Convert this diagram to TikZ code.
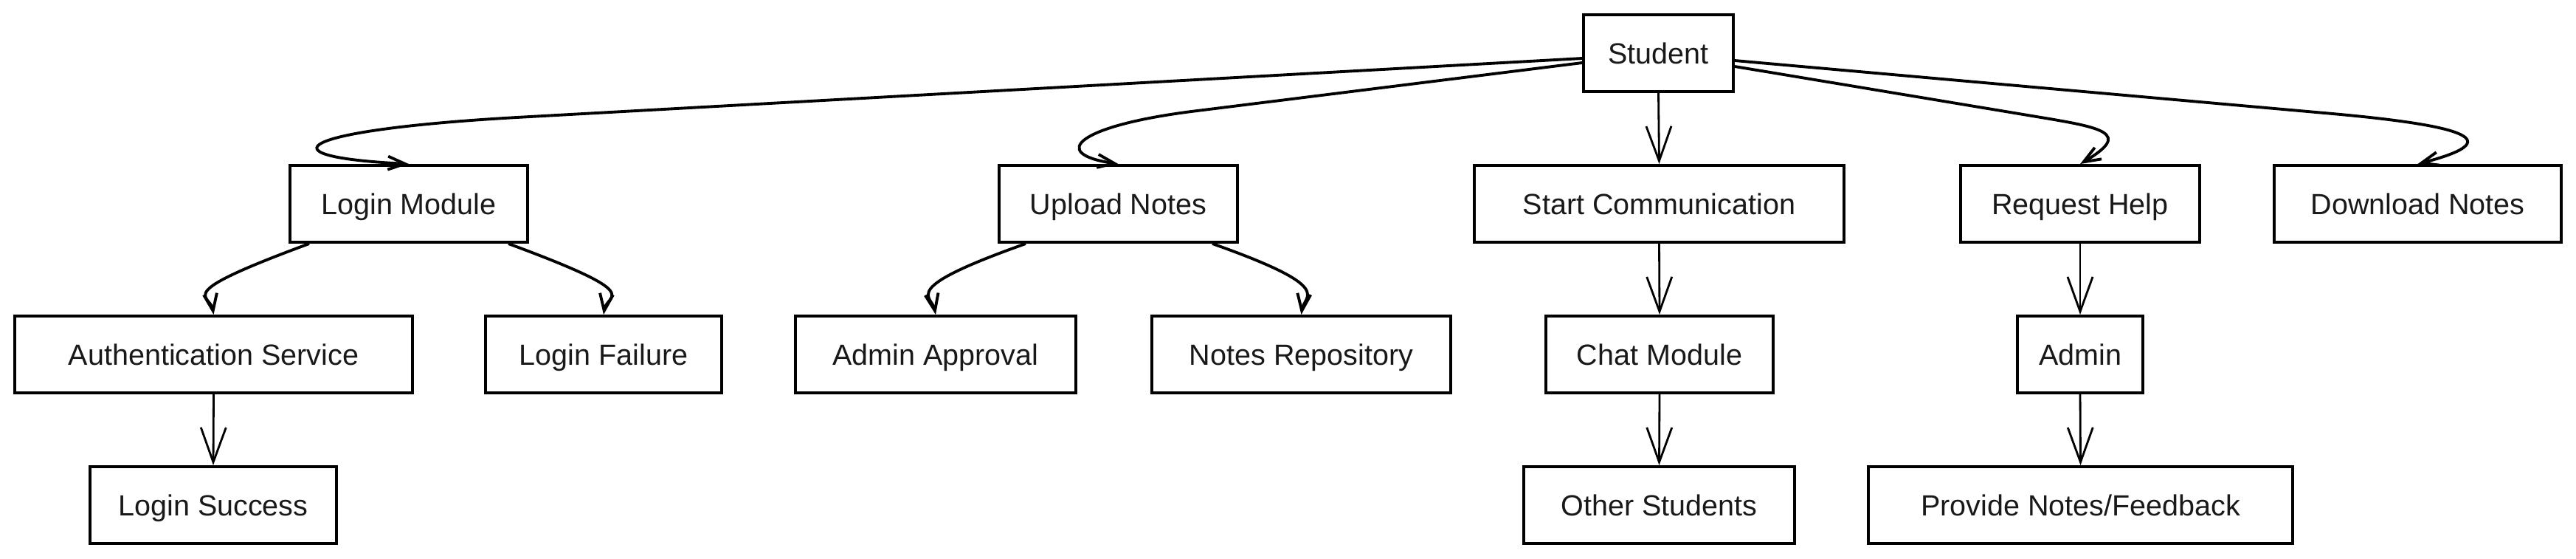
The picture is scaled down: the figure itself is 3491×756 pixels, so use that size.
\documentclass[tikz,border=0pt]{standalone}
\usepackage{fontspec}
\setmainfont{Liberation Sans}
\usetikzlibrary{arrows.meta,calc}
\begin{document}
\begin{tikzpicture}[x=0.01cm,y=-0.01cm,
  box/.style={draw=black, fill=white, line width=1.1pt, minimum height=1.04cm, inner sep=0pt,
    text height=0.29cm, text depth=0cm,
    font=\fontsize{11.24}{13}\selectfont, text=black!90},
  straightarrow/.style={line width=0.8pt, -{Straight Barb[length=4.7mm,width=3.4mm,line width=0.8pt]}},
  curvearrow/.style={line width=1.1pt, -{Straight Barb[length=2.3mm,width=1.8mm,line width=1.1pt]}}]
\useasboundingbox (0,0) rectangle (3491,756);
% row 0
\node[box, minimum width=2.03cm] (stu) at (2247.5,72) {Student};
% row 1
\node[box, minimum width=3.22cm] (lm) at (554,276) {Login Module};
\node[box, minimum width=3.23cm] (un) at (1515.5,276) {Upload Notes};
\node[box, minimum width=5.01cm] (sc) at (2248.5,276) {Start Communication};
\node[box, minimum width=3.24cm] (rh) at (2819,276) {Request Help};
\node[box, minimum width=3.89cm] (dn) at (3276.5,276) {Download Notes};
% row 2
\node[box, minimum width=5.39cm] (as) at (289.5,480) {Authentication Service};
\node[box, minimum width=3.20cm] (lf) at (818,480) {Login Failure};
\node[box, minimum width=3.80cm] (aa) at (1268,480) {Admin Approval};
\node[box, minimum width=4.05cm] (nr) at (1763.5,480) {Notes Repository};
\node[box, minimum width=3.08cm] (cm) at (2249,480) {Chat Module};
\node[box, minimum width=1.70cm] (ad) at (2819,480) {Admin};
% row 3
\node[box, minimum width=3.34cm] (ls) at (289,684) {Login Success};
\node[box, minimum width=3.67cm] (os) at (2248.5,684) {Other Students};
\node[box, minimum width=5.75cm] (pn) at (2819.5,684) {Provide Notes/Feedback};

% curved edges from Student
\draw[curvearrow] ($(stu.west)+(0,7)$) -- (700,159) .. controls (400,176) and (350,212) .. (lm.north);
\draw[curvearrow] ($(stu.west)+(0,13)$) -- (1620,150.3) .. controls (1460,170) and (1420,208) .. (un.north);
\draw[curvearrow] ($(stu.east)+(0,18)$) -- (2760,158) .. controls (2850,173) and (2890,180) .. (rh.north);
\draw[curvearrow] ($(stu.east)+(0,10)$) -- (3150,153) .. controls (3345,170) and (3400,190) .. (dn.north);
\draw[straightarrow] (stu.south) -- (sc.north);

% Login Module children
\draw[curvearrow] ($(lm.south)+(-135,0)$) .. controls (229,400) and (285,398) .. (as.north);
\draw[curvearrow] ($(lm.south)+(135,0)$) .. controls (879,400) and (822,398) .. (lf.north);
% Upload Notes children
\draw[curvearrow] ($(un.south)+(-125.5,0)$) .. controls (1215,392) and (1263,400) .. (aa.north);
\draw[curvearrow] ($(un.south)+(127.5,0)$) .. controls (1813,390) and (1767,400) .. (nr.north);

% straight edges
\draw[straightarrow] (as.south) -- (ls.north);
\draw[straightarrow] (sc.south) -- (cm.north);
\draw[straightarrow] (cm.south) -- (os.north);
\draw[straightarrow] (rh.south) -- (ad.north);
\draw[straightarrow] (ad.south) -- (pn.north);
\end{tikzpicture}
\end{document}
